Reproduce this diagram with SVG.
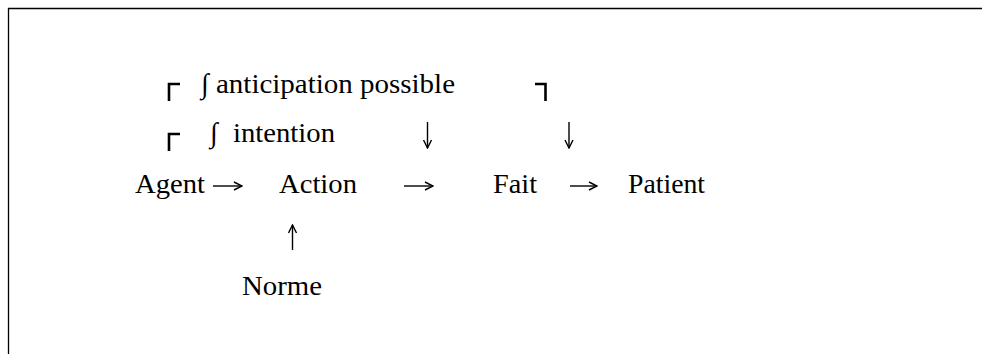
<svg xmlns="http://www.w3.org/2000/svg" width="982" height="354" viewBox="0 0 982 354">
<defs>
<marker id="ah" viewBox="0 0 10 10" refX="9" refY="5" markerWidth="10" markerHeight="10" markerUnits="userSpaceOnUse" orient="auto">
<path d="M1 1 L9 5 L1 9" fill="none" stroke="#000" stroke-width="1.4"/>
</marker>
</defs>
<style>
.t{font-family:"Liberation Serif","Times New Roman",serif;font-size:28px;fill:#000}
.br{fill:none;stroke:#000;stroke-width:2.6}
.frame{fill:none;stroke:#000;stroke-width:1.3}
.c{fill:none;stroke:#000;stroke-width:1.4;marker-end:url(#ah)}
</style>
<rect width="982" height="354" fill="#fff"/>
<path class="frame" d="M8.5 354 V8.5 H982"/>
<g id="anticipation">
<path class="br" d="M169 101 V84 H180"/>
<text class="t" x="201" y="93">∫</text>
<text class="t" x="216" y="93" textLength="239" lengthAdjust="spacingAndGlyphs">anticipation possible</text>
<path class="br" d="M535 84 H545.5 V101"/>
</g>
<g id="intention">
<path class="br" d="M169 151 V134 H180"/>
<text class="t" x="210" y="142">∫</text>
<text class="t" x="233" y="142" textLength="102" lengthAdjust="spacingAndGlyphs">intention</text>
</g>
<g id="agent"><text class="t" x="135" y="193" textLength="70" lengthAdjust="spacingAndGlyphs">Agent</text></g>
<g id="action"><text class="t" x="279" y="193" textLength="78" lengthAdjust="spacingAndGlyphs">Action</text></g>
<g id="fait"><text class="t" x="493" y="193" textLength="44" lengthAdjust="spacingAndGlyphs">Fait</text></g>
<g id="patient"><text class="t" x="628" y="193" textLength="77" lengthAdjust="spacingAndGlyphs">Patient</text></g>
<g id="norme"><text class="t" x="242" y="295" textLength="80" lengthAdjust="spacingAndGlyphs">Norme</text></g>
<g id="connectors">
<path class="c" d="M213 186 H242"/>
<path class="c" d="M404 186 H433"/>
<path class="c" d="M570 186 H597"/>
<path class="c" d="M427.5 122 V148"/>
<path class="c" d="M569 122 V148"/>
<path class="c" d="M292.5 250 V225"/>
</g>
</svg>
